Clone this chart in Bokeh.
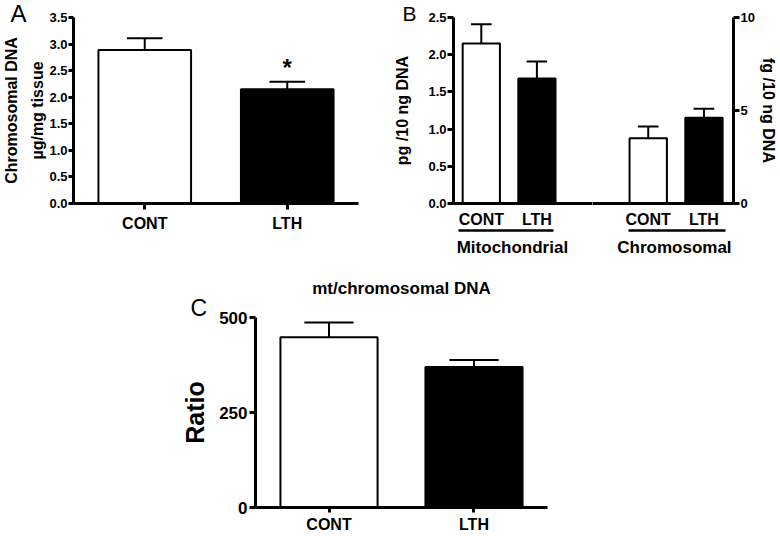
from bokeh.plotting import figure
from bokeh.models import (ColumnDataSource, FixedTicker, Range1d, LinearAxis,
                          Label, Spacer, Title)
from bokeh.layouts import column, row
from bokeh.embed import file_html
from bokeh.resources import INLINE

FONT = "Liberation Sans"

# ---------------- data ----------------
# Panel A : chromosomal DNA per tissue
a_groups = ["CONT", "LTH"]
a_mean = [2.89, 2.15]
a_sem = [0.22, 0.14]
a_yticks = [0.0, 0.5, 1.0, 1.5, 2.0, 2.5, 3.0, 3.5]

# Panel B : mitochondrial (left axis, pg/10 ng DNA) and chromosomal (right axis, fg/10 ng DNA)
b_groups = ["CONT", "LTH"]
b_mito_mean = [2.15, 1.68]
b_mito_sem = [0.26, 0.23]
b_chrom_mean = [3.51, 4.61]
b_chrom_sem = [0.63, 0.48]
b_left_ticks = [0.0, 0.5, 1.0, 1.5, 2.0, 2.5]
b_right_ticks = [0, 5, 10]
b_sections = ["Mitochondrial", "Chromosomal"]

# Panel C : mt / chromosomal DNA ratio
c_groups = ["CONT", "LTH"]
c_mean = [448, 370]
c_sem = [39, 18]
c_yticks = [0, 250, 500]

fills = ["white", "black"]


def style_axis(ax, size, tick_out=5, standoff=1):
    ax.axis_line_width = 3
    ax.axis_line_color = "black"
    ax.major_tick_line_width = 3
    ax.major_tick_line_color = "black"
    ax.major_tick_in = 0
    ax.major_tick_out = tick_out
    ax.minor_tick_line_color = None
    ax.major_label_standoff = standoff
    ax.major_label_text_font = FONT
    ax.major_label_text_font_style = "bold"
    ax.major_label_text_font_size = f"{size}px"
    ax.major_label_text_color = "black"
    ax.axis_label_text_font = FONT
    ax.axis_label_text_font_style = "bold"
    ax.axis_label_text_color = "black"


def base_fig(**kw):
    p = figure(output_backend="svg", toolbar_location=None, **kw)
    p.xgrid.visible = False
    p.ygrid.visible = False
    p.outline_line_color = None
    p.background_fill_color = "white"
    p.border_fill_color = "white"
    return p


def bars(p, xs, mean, sem, width, cap):
    src = ColumnDataSource(dict(
        x=xs, top=mean,
        err=[m + s for m, s in zip(mean, sem)],
        cl=[x - cap / 2 for x in xs],
        cr=[x + cap / 2 for x in xs],
        fill=fills,
    ))
    p.segment(x0="x", y0="top", x1="x", y1="err", source=src, line_width=2,
              line_color="black")
    p.segment(x0="cl", y0="err", x1="cr", y1="err", source=src, line_width=2,
              line_color="black")
    p.vbar(x="x", top="top", bottom=0, width=width, source=src,
           fill_color="fill", line_color="black", line_width=2)


def panel_letter(p, txt, size, offset, standoff):
    p.add_layout(Title(text=txt, align="left", offset=offset, standoff=standoff,
                       text_font=FONT, text_font_style="normal",
                       text_font_size=f"{size}px", text_color="black"), "above")


def group_axis(p, tick, lo, hi, name):
    ax = LinearAxis(ticker=FixedTicker(ticks=[tick]),
                    major_label_overrides={tick: name},
                    bounds=(lo, hi))
    style_axis(ax, 17, tick_out=0, standoff=7)
    ax.axis_line_width = 2.5
    ax.major_tick_line_color = None
    p.add_layout(ax, "below")


# ---------------- Panel A ----------------
pa = base_fig(width=390, height=268, x_range=Range1d(0.5, 2.5), y_range=Range1d(0, 3.5),
              min_border_left=72, min_border_right=32, min_border_top=16,
              min_border_bottom=63)
bars(pa, [1, 2], a_mean, a_sem, 0.65, 0.25)
style_axis(pa.yaxis[0], 13, tick_out=5, standoff=1)
pa.yaxis.ticker = FixedTicker(ticks=a_yticks)
pa.yaxis.major_label_overrides = {t: f"{t:.1f}" for t in a_yticks}
pa.yaxis.axis_label = "Chromosomal DNA\nµg/mg tissue"
pa.yaxis.axis_label_text_font_size = "16px"
pa.yaxis.axis_label_text_line_height = 1.55
pa.yaxis.axis_label_standoff = 0
style_axis(pa.xaxis[0], 16, tick_out=6, standoff=5)
pa.xaxis.ticker = FixedTicker(ticks=[1, 2])
pa.xaxis.major_label_overrides = {1: a_groups[0], 2: a_groups[1]}
pa.add_layout(Label(x=2, y=a_mean[1] + a_sem[1] + 0.27, text="*", text_font=FONT,
                    text_font_style="bold", text_font_size="24px", text_align="center",
                    text_baseline="alphabetic", text_color="black"))
panel_letter(pa, "A", 24, -63, -18)

# ---------------- Panel B (mitochondrial part, left axis) ----------------
pb1 = base_fig(width=202, height=268, x_range=Range1d(0.5, 3.0), y_range=Range1d(0, 2.5),
               min_border_left=63, min_border_right=0, min_border_top=17,
               min_border_bottom=65)
bars(pb1, [1, 2], b_mito_mean, b_mito_sem, 0.67, 0.37)
style_axis(pb1.yaxis[0], 13, tick_out=6, standoff=1)
pb1.yaxis.ticker = FixedTicker(ticks=b_left_ticks)
pb1.yaxis.major_label_overrides = {t: f"{t:.1f}" for t in b_left_ticks}
pb1.yaxis.axis_label = "pg /10 ng DNA"
pb1.yaxis.axis_label_text_font_size = "16px"
pb1.yaxis.axis_label_standoff = 14
style_axis(pb1.xaxis[0], 16, tick_out=0, standoff=7)
pb1.xaxis.major_tick_line_color = None
pb1.xaxis.ticker = FixedTicker(ticks=[1, 2])
pb1.xaxis.major_label_overrides = {1: b_groups[0], 2: b_groups[1]}
group_axis(pb1, 1.56, 0.59, 2.30, b_sections[0])
panel_letter(pb1, "B", 21, -51, -15)

# ---------------- Panel B (chromosomal part, right axis) ----------------
pb2 = base_fig(width=188, height=268, x_range=Range1d(3.0, 5.53), y_range=Range1d(0, 10),
               y_axis_location="right",
               min_border_left=0, min_border_right=47, min_border_top=17,
               min_border_bottom=65)
bars(pb2, [4, 5], b_chrom_mean, b_chrom_sem, 0.67, 0.37)
style_axis(pb2.yaxis[0], 13, tick_out=6, standoff=1)
pb2.yaxis.ticker = FixedTicker(ticks=b_right_ticks)
pb2.yaxis.axis_label = "fg /10 ng DNA"
pb2.yaxis.axis_label_text_font_size = "16px"
pb2.yaxis.axis_label_standoff = 2
style_axis(pb2.xaxis[0], 16, tick_out=0, standoff=7)
pb2.xaxis.major_tick_line_color = None
pb2.xaxis.ticker = FixedTicker(ticks=[4, 5])
pb2.xaxis.major_label_overrides = {4: b_groups[0], 5: b_groups[1]}
group_axis(pb2, 4.47, 3.65, 5.39, b_sections[1])

# ---------------- Panel C ----------------
pc = base_fig(width=389, height=267, x_range=Range1d(0.493, 2.507), y_range=Range1d(0, 500),
              min_border_left=75, min_border_right=20, min_border_top=49,
              min_border_bottom=26, title=None)
panel_letter(pc, "C", 23, -65, -6)
pc.add_layout(Title(text="mt/chromosomal DNA", align="center", standoff=-5,
                    text_font=FONT, text_font_style="bold", text_font_size="17px",
                    text_color="black"), "above")
bars(pc, [1, 2], c_mean, c_sem, 0.67, 0.34)
style_axis(pc.yaxis[0], 17, tick_out=6, standoff=2)
pc.yaxis.ticker = FixedTicker(ticks=c_yticks)
pc.yaxis.axis_label = "Ratio"
pc.yaxis.axis_label_text_font_size = "25px"
pc.yaxis.axis_label_standoff = 7
style_axis(pc.xaxis[0], 16, tick_out=5, standoff=3)
pc.xaxis.ticker = FixedTicker(ticks=[1, 2])
pc.xaxis.major_label_overrides = {1: c_groups[0], 2: c_groups[1]}

layout = column(row(pa, pb1, pb2), row(Spacer(width=178, height=267), pc))

open("out.html", "w").write(file_html(layout, INLINE))
